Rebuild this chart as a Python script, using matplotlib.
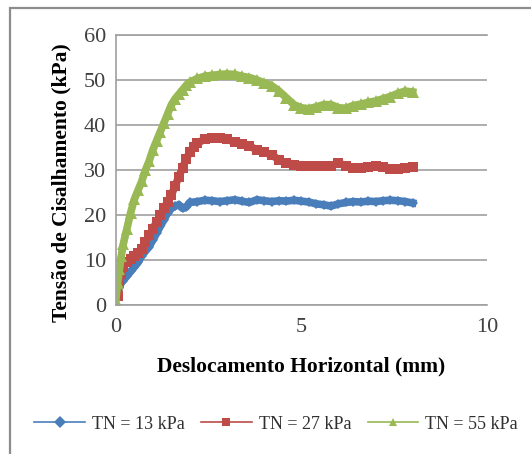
import numpy as np
import matplotlib
matplotlib.use('Agg')
import matplotlib.pyplot as plt
from matplotlib.patches import Rectangle
from matplotlib.lines import Line2D

# ---data-----------------------------------------------------------------------
x_13 = [0.0, 0.05, 0.1, 0.2, 0.3, 0.4, 0.5, 0.6, 0.7, 0.8, 0.9, 1.0, 1.1, 1.2, 1.3,
        1.4, 1.5, 1.6, 1.7, 1.8, 1.9, 2.0, 2.2, 2.4, 2.6, 2.8, 3.0, 3.2, 3.4, 3.6,
        3.8, 4.0, 4.2, 4.4, 4.6, 4.8, 5.0, 5.2, 5.4, 5.6, 5.8, 6.0, 6.2, 6.4, 6.6,
        6.8, 7.0, 7.2, 7.4, 7.6, 7.8, 8.0]
y_13 = [3, 3.5, 4.5, 5.5, 6.5, 7.5, 8.5, 9.5, 11, 12, 13, 14.5, 16, 17.5, 19,
        20.5, 21.5, 22, 22.3, 21.5, 21.8, 22.8, 23, 23.3, 23.2, 23, 23.2, 23.4, 23.1, 22.8,
        23.4, 23.2, 23, 23.2, 23.1, 23.3, 23.1, 22.9, 22.5, 22.3, 22, 22.5, 22.8, 23, 22.9,
        23.1, 23, 23.2, 23.3, 23.2, 23, 22.7]

x_27 = [0.05, 0.1, 0.15, 0.2, 0.3, 0.4, 0.5, 0.6, 0.7, 0.8, 0.9, 1.0, 1.1, 1.2, 1.3,
        1.4, 1.5, 1.6, 1.7, 1.8, 1.9, 2.0, 2.1, 2.2, 2.4, 2.6, 2.8, 3.0, 3.2, 3.4,
        3.6, 3.8, 4.0, 4.2, 4.4, 4.6, 4.8, 5.0, 5.2, 5.4, 5.6, 5.8, 6.0, 6.2, 6.4,
        6.6, 6.8, 7.0, 7.2, 7.4, 7.6, 7.8, 8.0]
y_27 = [2, 5, 7, 8.5, 9.5, 10.3, 11, 11.7, 12.5, 14, 15.5, 17, 18.5, 20, 21.5,
        23, 24.5, 26.5, 28.5, 30.5, 32.5, 34, 35.2, 36, 36.8, 37, 37.2, 36.8, 36.2, 35.8,
        35.3, 34.5, 34, 33.3, 32.3, 31.5, 31.2, 31, 31, 30.8, 31, 31, 31.5, 31, 30.5,
        30.5, 30.7, 30.8, 30.6, 30.3, 30.2, 30.5, 30.7]

x_55 = [0.0, 0.05, 0.1, 0.15, 0.2, 0.3, 0.4, 0.5, 0.6, 0.7, 0.8, 0.9, 1.0, 1.1, 1.2,
        1.3, 1.4, 1.5, 1.6, 1.7, 1.8, 1.9, 2.0, 2.2, 2.4, 2.6, 2.8, 3.0, 3.2, 3.4,
        3.6, 3.8, 4.0, 4.2, 4.4, 4.6, 4.8, 5.0, 5.2, 5.4, 5.6, 5.8, 6.0, 6.2, 6.4,
        6.6, 6.8, 7.0, 7.2, 7.4, 7.6, 7.8, 8.0]
y_55 = [1, 5, 8, 11, 13.5, 17, 20.5, 23.5, 25.5, 27.5, 30, 32, 34.5, 36.5, 38.5,
        40.5, 42.5, 44.5, 45.8, 46.8, 47.8, 48.8, 49.5, 50.3, 50.8, 51, 51.2, 51.3, 51.2, 50.8,
        50.5, 50, 49.3, 48.7, 47.5, 46, 44.5, 43.8, 43.6, 44, 44.5, 44.5, 43.8, 43.7, 44.3,
        44.6, 45, 45.3, 45.8, 46.3, 47, 47.5, 47.3]

labels = ['TN = 13 kPa', 'TN = 27 kPa', 'TN = 55 kPa']
colors = ['#4A7EBB', '#BE4B48', '#98B954']
markers = ['D', 's', '^']

plt.rcParams['font.family'] = ['Liberation Serif', 'DejaVu Serif']

fig = plt.figure(figsize=(5.31, 4.54), dpi=100)

# outer chart frame (runs off the right/bottom edge in the reference)
fig.patches.append(Rectangle((10 / 531, -0.1), 1.2, 1 - 8 / 454 + 0.1,
                             transform=fig.transFigure, fill=False,
                             edgecolor='#8c8c8c', linewidth=1.6))

ax = fig.add_axes([0.218, 0.3275, 0.699, 0.596])

series = [(x_13, y_13), (x_27, y_27), (x_55, y_55)]
msizes = [5.5, 7.5, 8]
for (xs, ys), lab, c, m, ms in zip(series, labels, colors, markers, msizes):
    ax.plot(xs, ys, color=c, linewidth=5.5, marker=m, markersize=ms,
            markeredgewidth=0, label=lab)

ax.set_xlim(0, 10)
ax.set_ylim(0, 60)
ax.set_xticks([0, 5, 10])
ax.set_yticks(range(0, 61, 10))
ax.grid(axis='y', color='#a0a0a0', linewidth=1.2)
ax.set_axisbelow(True)
ax.spines['right'].set_visible(False)
for s in ['left', 'top', 'bottom']:
    ax.spines[s].set_color('#a0a0a0')
    ax.spines[s].set_linewidth(1.2)
ax.tick_params(length=0, labelsize=16, colors='#404040', pad=7)
ax.tick_params(axis='x', pad=9)

ax.set_ylabel('Tensão de Cisalhamento (kPa)', fontsize=15.5, fontweight='bold')
ax.yaxis.set_label_coords(-0.12, 0.452)
ax.set_xlabel('Deslocamento Horizontal (mm)', fontsize=15.5, fontweight='bold', labelpad=14)

# legend with thin lines and small markers like the reference
handles = [Line2D([], [], color=c, marker=m, markersize=6, linewidth=1.2, markeredgewidth=0)
           for c, m in zip(colors, markers)]
fig.legend(handles, labels, loc='center', bbox_to_anchor=(0.52, 0.066), ncol=3,
           frameon=False, fontsize=13, handlelength=2.8, columnspacing=0.9,
           handletextpad=0.4, labelcolor='#303030')

fig.savefig('out.png', dpi=100)
